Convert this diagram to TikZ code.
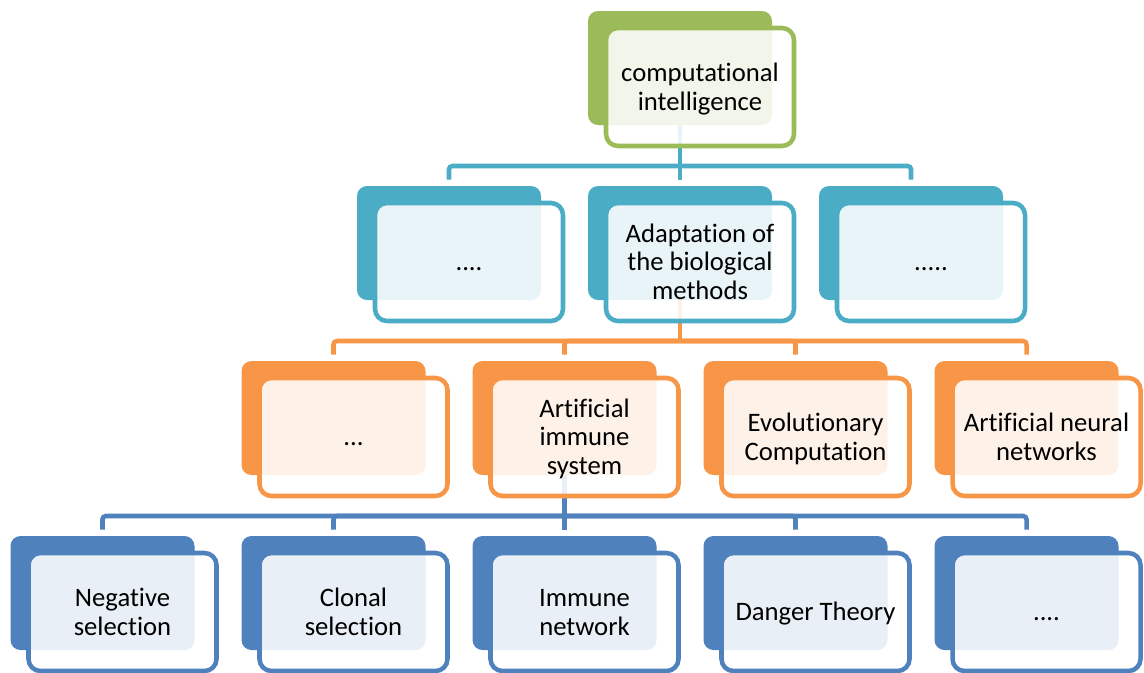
\documentclass[tikz,border=0pt]{standalone}
\usepackage{fontspec}
\setmainfont{Carlito}[RawFeature={-liga;-clig;-calt;-dlig}]
\usetikzlibrary{calc,backgrounds}
\definecolor{cigreen}{HTML}{9BBB59}
\definecolor{citeal}{HTML}{4BACC6}
\definecolor{ciorange}{HTML}{F79646}
\definecolor{ciblue}{HTML}{4F81BD}
% line strut: gives every text line the same height and depth
\newcommand\lstrut{\rule[-4.2pt]{0pt}{21.5pt}}
\tikzset{
  backbox/.style={draw=none, fill=#1, rounded corners=7.5pt,
    minimum width=138pt, minimum height=85.5pt, inner sep=0pt},
  frontbox/.style={draw=#1, line width=3.4pt, fill=white, fill opacity=0.88,
    text opacity=1, rounded corners=9pt, minimum width=141pt,
    minimum height=88.5pt, align=center, inner sep=0pt,
    font=\fontsize{20}{21.5}\selectfont},
  conn/.style={draw=#1, line width=3.4pt, rounded corners=2.5pt},
  drop/.style={yshift=4.5pt},
}
\begin{document}
\begin{tikzpicture}[x=0.75pt,y=-0.75pt]
\useasboundingbox (0,0) rectangle (1144,672);

% back plates
\node[backbox=cigreen] (b1) at (680,68) {};
\node[backbox=citeal] (b2a) at (449,243) {};
\node[backbox=citeal] (b2b) at (680,243) {};
\node[backbox=citeal] (b2c) at (911,243) {};
\node[backbox=ciorange] (b3a) at (333.5,418) {};
\node[backbox=ciorange] (b3b) at (564.5,418) {};
\node[backbox=ciorange] (b3c) at (795.5,418) {};
\node[backbox=ciorange] (b3d) at (1026.5,418) {};
\node[backbox=ciblue] (b4a) at (102.5,593) {};
\node[backbox=ciblue] (b4b) at (333.5,593) {};
\node[backbox=ciblue] (b4c) at (564.5,593) {};
\node[backbox=ciblue] (b4d) at (795.5,593) {};
\node[backbox=ciblue] (b4e) at (1026.5,593) {};

% front cards with labels
\node[frontbox=cigreen] (f1) at ($(b1)+(20,19)$) {\lstrut computational\\\lstrut intelligence};
\node[frontbox=citeal] (f2a) at ($(b2a)+(20,19)$) {\lstrut ....};
\node[frontbox=citeal] (f2b) at ($(b2b)+(20,19)$) {\lstrut Adaptation of\\\lstrut the biological\\\lstrut methods};
\node[frontbox=citeal] (f2c) at ($(b2c)+(20,19)$) {\lstrut .....};
\node[frontbox=ciorange] (f3a) at ($(b3a)+(20,19)$) {\lstrut ...};
\node[frontbox=ciorange] (f3b) at ($(b3b)+(20,19)$) {\lstrut Artificial\\\lstrut immune\\\lstrut system};
\node[frontbox=ciorange] (f3c) at ($(b3c)+(20,19)$) {\lstrut Evolutionary\\\lstrut Computation};
\node[frontbox=ciorange] (f3d) at ($(b3d)+(20,19)$) {\lstrut Artificial neural\\\lstrut networks};
\node[frontbox=ciblue] (f4a) at ($(b4a)+(20,19)$) {\lstrut Negative\\\lstrut selection};
\node[frontbox=ciblue] (f4b) at ($(b4b)+(20,19)$) {\lstrut Clonal\\\lstrut selection};
\node[frontbox=ciblue] (f4c) at ($(b4c)+(20,19)$) {\lstrut Immune\\\lstrut network};
\node[frontbox=ciblue] (f4d) at ($(b4d)+(20,19)$) {\lstrut Danger Theory};
\node[frontbox=ciblue] (f4e) at ($(b4e)+(20,19)$) {\lstrut ....};

% junction points of the connector bars
\coordinate (h2) at (680,166);
\coordinate (h3) at (680,341);
\coordinate (h4) at (564.5,516);

\begin{scope}[on background layer]
  % level 1 -> level 2
  \draw[conn=citeal] (b1.south) -- (h2);
  \draw[conn=citeal] ([drop]b2a.north) |- (h2);
  \draw[conn=citeal] ([drop]b2b.north) -- (h2);
  \draw[conn=citeal] ([drop]b2c.north) |- (h2);
  % level 2 -> level 3
  \draw[conn=ciorange] (b2b.south) -- (h3);
  \draw[conn=ciorange] ([drop]b3a.north) |- (h3);
  \draw[conn=ciorange] ([drop]b3b.north) |- (h3);
  \draw[conn=ciorange] ([drop]b3c.north) |- (h3);
  \draw[conn=ciorange] ([drop]b3d.north) |- (h3);
  % level 3 -> level 4
  \draw[conn=ciblue] (b3b.south) -- (h4);
  \draw[conn=ciblue] ([drop]b4a.north) |- (h4);
  \draw[conn=ciblue] ([drop]b4b.north) |- (h4);
  \draw[conn=ciblue] ([drop]b4c.north) -- (h4);
  \draw[conn=ciblue] ([drop]b4d.north) |- (h4);
  \draw[conn=ciblue] ([drop]b4e.north) |- (h4);
\end{scope}
\end{tikzpicture}
\end{document}
